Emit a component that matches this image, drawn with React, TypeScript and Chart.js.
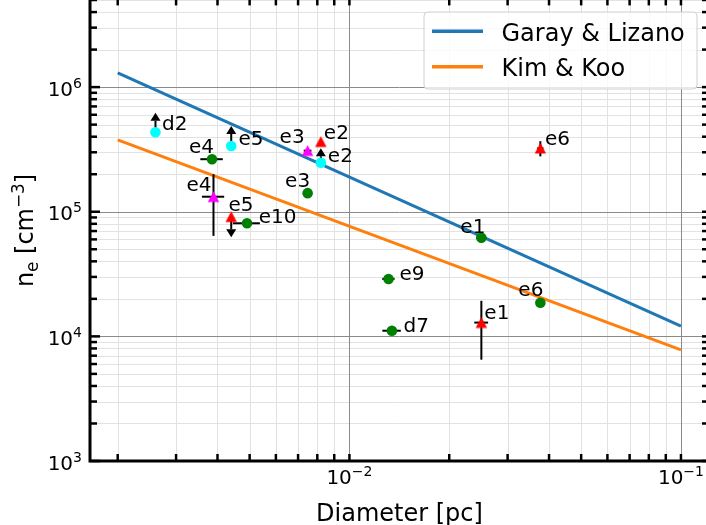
import React, { useEffect, useRef } from 'react';
import { Chart, registerables } from 'chart.js';

Chart.register(...registerables);

// ---------- data ----------
const lineX = [0.002, 0.1];
const garayY = [1.3e6, 1.21e4];
const kimY = [3.77e5, 7.8e3];

const cyanX = [0.0026, 0.0044, 0.0082];
const cyanY = [4.34e5, 3.37e5, 2.47e5];
const cyanUpTo = [6.23e5, 4.88e5, 3.23e5];
const cyanNames = ['d2', 'e5', 'e2'];

const greenX = [0.00385, 0.00491, 0.00748, 0.025, 0.01312, 0.01343, 0.03766];
const greenY = [2.64e5, 8.08e4, 1.41e5, 6.19e4, 2.89e4, 1.11e4, 1.86e4];
const greenXErr = [0.0003, 0.00046, 0, 0.00088, 0.00056, 0.00086, 0];
const greenNames = ['e4', 'e10', 'e3', 'e1', 'e9', 'd7', 'e6'];

const magentaX = [0.00389, 0.00748];
const magentaY = [1.32e5, 3.09e5];
const magentaXErr = [0.0003, 0.0002];
const magentaYErr = [6.8e4, 0];
const magentaNames = ['e4', 'e3'];

const redX = [0.0044, 0.0082, 0.025, 0.03766];
const redY = [9.12e4, 3.65e5, 1.29e4, 3.23e5];
const redXErr = [0, 0, 0.0012, 0.0008];
const redYErr = [0, 0, 6.4e3, 4.5e4];
const redDownTo = [6.24e4, 0, 0, 0];
const redNames = ['e5', 'e2', 'e1', 'e6'];

const xTickValues = [0.01, 0.1];
const xTickExps = ['\u22122', '\u22121'];
const yTickValues = [1e3, 1e4, 1e5, 1e6];
const yTickExps = ['3', '4', '5', '6'];

const xLimits = [0.00165, 0.1215];
const yLimits = [1e3, 5e6];

// ---------- label placement (pixel offsets from the point, text anchor) ----------
const cyanLabelPos: [number, number, string][] = [[6.6, -2.3, 'left'], [7.2, -1, 'left'], [7, -0.7, 'left']];
const greenLabelPos: [number, number, string][] = [
  [2, -6, 'right'], [11.7, 0, 'left'], [2.5, -6, 'right'], [4, -5, 'right'],
  [11, 1, 'left'], [11.7, 1, 'left'], [3, -6.7, 'right'],
];
const magentaLabelPos: [number, number, string][] = [[-2, -6, 'right'], [-3, -7.4, 'right']];
const redLabelPos: [number, number, string][] = [[-2.8, -6, 'left'], [3, -2.4, 'left'], [3, -3.7, 'left'], [4.7, -3.3, 'left']];

const FONT = '"DejaVu Sans", "Liberation Sans", sans-serif';

type Seg = { t: string; size: number; dy: number };

function segsWidth(ctx: CanvasRenderingContext2D, segs: Seg[]) {
  let w = 0;
  for (const s of segs) {
    ctx.font = `${s.size}px ${FONT}`;
    w += ctx.measureText(s.t).width;
  }
  return w;
}

function drawSegs(ctx: CanvasRenderingContext2D, segs: Seg[], x: number, y: number) {
  let cx = x;
  ctx.textAlign = 'left';
  ctx.textBaseline = 'alphabetic';
  for (const s of segs) {
    ctx.font = `${s.size}px ${FONT}`;
    ctx.fillText(s.t, cx, y + s.dy);
    cx += ctx.measureText(s.t).width;
  }
}

function makeTriangle(color: string) {
  const c = document.createElement('canvas');
  c.width = 13;
  c.height = 12;
  const g = c.getContext('2d')!;
  g.fillStyle = color;
  g.beginPath();
  g.moveTo(6.5, 0.5);
  g.lineTo(0.8, 11.2);
  g.lineTo(12.2, 11.2);
  g.closePath();
  g.fill();
  return c;
}

function logTicks(min: number, max: number) {
  const out: { v: number; major: boolean }[] = [];
  for (let e = Math.floor(Math.log10(min)); e <= Math.ceil(Math.log10(max)); e++) {
    for (let m = 1; m <= 9; m++) {
      const v = m * Math.pow(10, e);
      if (v >= min * 0.9999 && v <= max * 1.0001) out.push({ v, major: m === 1 });
    }
  }
  return out;
}

const decor = {
  id: 'mplDecor',
  beforeDatasetsDraw(chart: any) {
    const { ctx, chartArea: a, scales } = chart;
    const xs = scales.x, ys = scales.y;
    ctx.save();
    ctx.beginPath();
    ctx.rect(a.left, a.top, a.right - a.left, a.bottom - a.top);
    ctx.clip();
    const xt = logTicks(xLimits[0], xLimits[1]);
    const yt = logTicks(yLimits[0], yLimits[1]);
    for (const pass of [false, true]) {
      ctx.strokeStyle = pass ? '#8a8a8a' : '#e2e2e2';
      ctx.lineWidth = 1;
      for (const t of xt) {
        if (t.major !== pass) continue;
        const px = Math.round(xs.getPixelForValue(t.v)) + 0.5;
        ctx.beginPath(); ctx.moveTo(px, a.top); ctx.lineTo(px, a.bottom); ctx.stroke();
      }
      for (const t of yt) {
        if (t.major !== pass) continue;
        const py = Math.round(ys.getPixelForValue(t.v)) + 0.5;
        ctx.beginPath(); ctx.moveTo(a.left, py); ctx.lineTo(a.right, py); ctx.stroke();
      }
    }
    ctx.restore();
  },
  beforeDatasetDraw(chart: any, args: any) {
    if (args.index !== 3) return;
    const { ctx, scales } = chart;
    const xs = scales.x, ys = scales.y;
    ctx.save();
    ctx.strokeStyle = '#000';
    ctx.fillStyle = '#000';
    ctx.lineWidth = 2;
    const hbar = (x: number, y: number, e: number) => {
      if (!e) return;
      const py = ys.getPixelForValue(y);
      ctx.beginPath();
      ctx.moveTo(xs.getPixelForValue(x - e), py);
      ctx.lineTo(xs.getPixelForValue(x + e), py);
      ctx.stroke();
    };
    const vbar = (x: number, y: number, e: number) => {
      if (!e) return;
      const px = xs.getPixelForValue(x);
      ctx.beginPath();
      ctx.moveTo(px, ys.getPixelForValue(y - e));
      ctx.lineTo(px, ys.getPixelForValue(y + e));
      ctx.stroke();
    };
    const arrow = (x: number, y: number, to: number) => {
      if (!to) return;
      const px = xs.getPixelForValue(x);
      const p0 = ys.getPixelForValue(y);
      const p1 = ys.getPixelForValue(to);
      const dir = p1 < p0 ? -1 : 1;
      const base = p1 - dir * 8;
      ctx.beginPath(); ctx.moveTo(px, p0); ctx.lineTo(px, base); ctx.stroke();
      ctx.beginPath();
      ctx.moveTo(px, p1);
      ctx.lineTo(px - 5, base);
      ctx.lineTo(px + 5, base);
      ctx.closePath();
      ctx.fill();
    };
    greenX.forEach((x, i) => hbar(x, greenY[i], greenXErr[i]));
    magentaX.forEach((x, i) => { vbar(x, magentaY[i], magentaYErr[i]); hbar(x, magentaY[i], magentaXErr[i]); });
    redX.forEach((x, i) => { vbar(x, redY[i], redYErr[i]); hbar(x, redY[i], redXErr[i]); arrow(x, redY[i], redDownTo[i]); });
    cyanX.forEach((x, i) => arrow(x, cyanY[i], cyanUpTo[i]));
    ctx.restore();
  },
  afterDatasetsDraw(chart: any) {
    const { ctx, chartArea: a, scales } = chart;
    const xs = scales.x, ys = scales.y;
    ctx.save();
    // annotations
    ctx.fillStyle = '#000';
    ctx.font = `20px ${FONT}`;
    ctx.textBaseline = 'alphabetic';
    const groups = [
      { x: cyanX, y: cyanY, n: cyanNames, p: cyanLabelPos },
      { x: greenX, y: greenY, n: greenNames, p: greenLabelPos },
      { x: magentaX, y: magentaY, n: magentaNames, p: magentaLabelPos },
      { x: redX, y: redY, n: redNames, p: redLabelPos },
    ];
    for (const g of groups) {
      g.x.forEach((x, i) => {
        const px = xs.getPixelForValue(x);
        const py = ys.getPixelForValue(g.y[i]);
        const [dx, dy, al] = g.p[i];
        ctx.textAlign = al as CanvasTextAlign;
        ctx.fillText(g.n[i], px + dx, py + dy);
      });
    }

    // spines (top spine sits just above the visible area)
    const topY = a.top - 1.6;
    ctx.strokeStyle = '#000';
    ctx.lineWidth = 3;
    ctx.beginPath();
    ctx.rect(a.left, topY, a.right - a.left, a.bottom - topY);
    ctx.stroke();

    // ticks
    ctx.lineWidth = 2.5;
    for (const t of logTicks(xLimits[0], xLimits[1])) {
      const px = xs.getPixelForValue(t.v);
      ctx.beginPath(); ctx.moveTo(px, a.bottom); ctx.lineTo(px, a.bottom - 7); ctx.stroke();
      ctx.beginPath(); ctx.moveTo(px, topY); ctx.lineTo(px, topY + 7); ctx.stroke();
    }
    for (const t of logTicks(yLimits[0], yLimits[1])) {
      const py = ys.getPixelForValue(t.v);
      const len = t.major ? 10 : 7;
      ctx.beginPath(); ctx.moveTo(a.left, py); ctx.lineTo(a.left + len, py); ctx.stroke();
      ctx.beginPath(); ctx.moveTo(a.right, py); ctx.lineTo(a.right - 7, py); ctx.stroke();
    }

    // tick labels
    ctx.fillStyle = '#000';
    xTickValues.forEach((v, i) => {
      const segs: Seg[] = [{ t: '10', size: 20, dy: 0 }, { t: xTickExps[i], size: 14, dy: -8 }];
      const w = segsWidth(ctx, segs);
      drawSegs(ctx, segs, xs.getPixelForValue(v) - w / 2, a.bottom + 22.5);
    });
    yTickValues.forEach((v, i) => {
      const segs: Seg[] = [{ t: '10', size: 20, dy: 0 }, { t: yTickExps[i], size: 14, dy: -8 }];
      const w = segsWidth(ctx, segs);
      drawSegs(ctx, segs, a.left - 8 - w, ys.getPixelForValue(v) + 8.5);
    });

    // axis titles
    const xt: Seg[] = [{ t: 'Diameter [pc]', size: 24, dy: 0 }];
    const xw = segsWidth(ctx, xt);
    drawSegs(ctx, xt, (a.left + a.right) / 2 - xw / 2, 521);

    const yt: Seg[] = [
      { t: 'n', size: 24, dy: 0 },
      { t: 'e', size: 16.8, dy: 4.5 },
      { t: ' [cm', size: 24, dy: 0 },
      { t: '\u22123', size: 16.8, dy: -9.5 },
      { t: ']', size: 24, dy: 0 },
    ];
    const yw = segsWidth(ctx, yt);
    ctx.save();
    ctx.translate(33, (a.top + a.bottom) / 2);
    ctx.rotate(-Math.PI / 2);
    drawSegs(ctx, yt, -yw / 2, 0);
    ctx.restore();

    // legend
    const bx = a.right - 12 - 273, by = a.top + 12, bw = 273, bh = 77, r = 4;
    ctx.beginPath();
    ctx.moveTo(bx + r, by);
    ctx.lineTo(bx + bw - r, by);
    ctx.arcTo(bx + bw, by, bx + bw, by + r, r);
    ctx.lineTo(bx + bw, by + bh - r);
    ctx.arcTo(bx + bw, by + bh, bx + bw - r, by + bh, r);
    ctx.lineTo(bx + r, by + bh);
    ctx.arcTo(bx, by + bh, bx, by + bh - r, r);
    ctx.lineTo(bx, by + r);
    ctx.arcTo(bx, by, bx + r, by, r);
    ctx.closePath();
    ctx.fillStyle = 'rgba(255,255,255,0.8)';
    ctx.fill();
    ctx.strokeStyle = '#d0d0d0';
    ctx.lineWidth = 1;
    ctx.stroke();
    const legendSets = chart.data.datasets.filter((d: any) => d.showLine);
    legendSets.forEach((d: any, i: number) => {
      const ly = by + 19.3 + i * 35.4;
      ctx.strokeStyle = d.borderColor;
      ctx.lineWidth = 3.5;
      ctx.beginPath(); ctx.moveTo(bx + 8, ly); ctx.lineTo(bx + 59, ly); ctx.stroke();
      ctx.fillStyle = '#000';
      ctx.font = `24px ${FONT}`;
      ctx.textAlign = 'left';
      ctx.fillText(d.label, bx + 77.5, by + 28.5 + i * 35.2);
    });
    ctx.restore();
  },
};

export default function App() {
  const ref = useRef<HTMLCanvasElement>(null);
  useEffect(() => {
    const pts = (xa: number[], ya: number[]) => xa.map((x, i) => ({ x, y: ya[i] }));
    const redTri = makeTriangle('#ff0000');
    const magTri = makeTriangle('#ff00ff');
    const chart = new Chart(ref.current!, {
      type: 'scatter',
      data: {
        datasets: [
          { label: 'cyan', data: pts(cyanX, cyanY), pointStyle: 'circle', pointRadius: 5.3, backgroundColor: '#00ffff', borderColor: '#00ffff', borderWidth: 0 },
          { label: 'green', data: pts(greenX, greenY), pointStyle: 'circle', pointRadius: 5.3, backgroundColor: '#008000', borderColor: '#008000', borderWidth: 0 },
          { label: 'magenta', data: pts(magentaX, magentaY), pointStyle: magTri as any, pointRadius: 6, backgroundColor: '#ff00ff', borderColor: '#ff00ff', borderWidth: 0 },
          { label: 'red', data: pts(redX, redY), pointStyle: redTri as any, pointRadius: 6, backgroundColor: '#ff0000', borderColor: '#ff0000', borderWidth: 0 },
          { label: 'Garay & Lizano', data: pts(lineX, garayY), showLine: true, pointRadius: 0, borderColor: '#1f77b4', backgroundColor: '#1f77b4', borderWidth: 3 },
          { label: 'Kim & Koo', data: pts(lineX, kimY), showLine: true, pointRadius: 0, borderColor: '#ff7f0e', backgroundColor: '#ff7f0e', borderWidth: 3 },
        ] as any,
      },
      options: {
        animation: false,
        responsive: false,
        devicePixelRatio: 1,
        events: [],
        layout: { autoPadding: false, padding: { left: 90, right: 11, top: 0, bottom: 64 } },
        plugins: { legend: { display: false }, tooltip: { enabled: false } },
        scales: {
          x: { type: 'logarithmic', min: xLimits[0], max: xLimits[1], display: false },
          y: { type: 'logarithmic', min: yLimits[0], max: yLimits[1], display: false },
        },
      },
      plugins: [decor as any],
    });
    return () => chart.destroy();
  }, []);
  return (
    <div style={{ position: 'fixed', left: 0, top: 0, width: 706, height: 525, overflow: 'hidden', background: '#fff' }}>
      <canvas ref={ref} width={720} height={525} style={{ width: 720, height: 525, display: 'block' }} />
    </div>
  );
}
